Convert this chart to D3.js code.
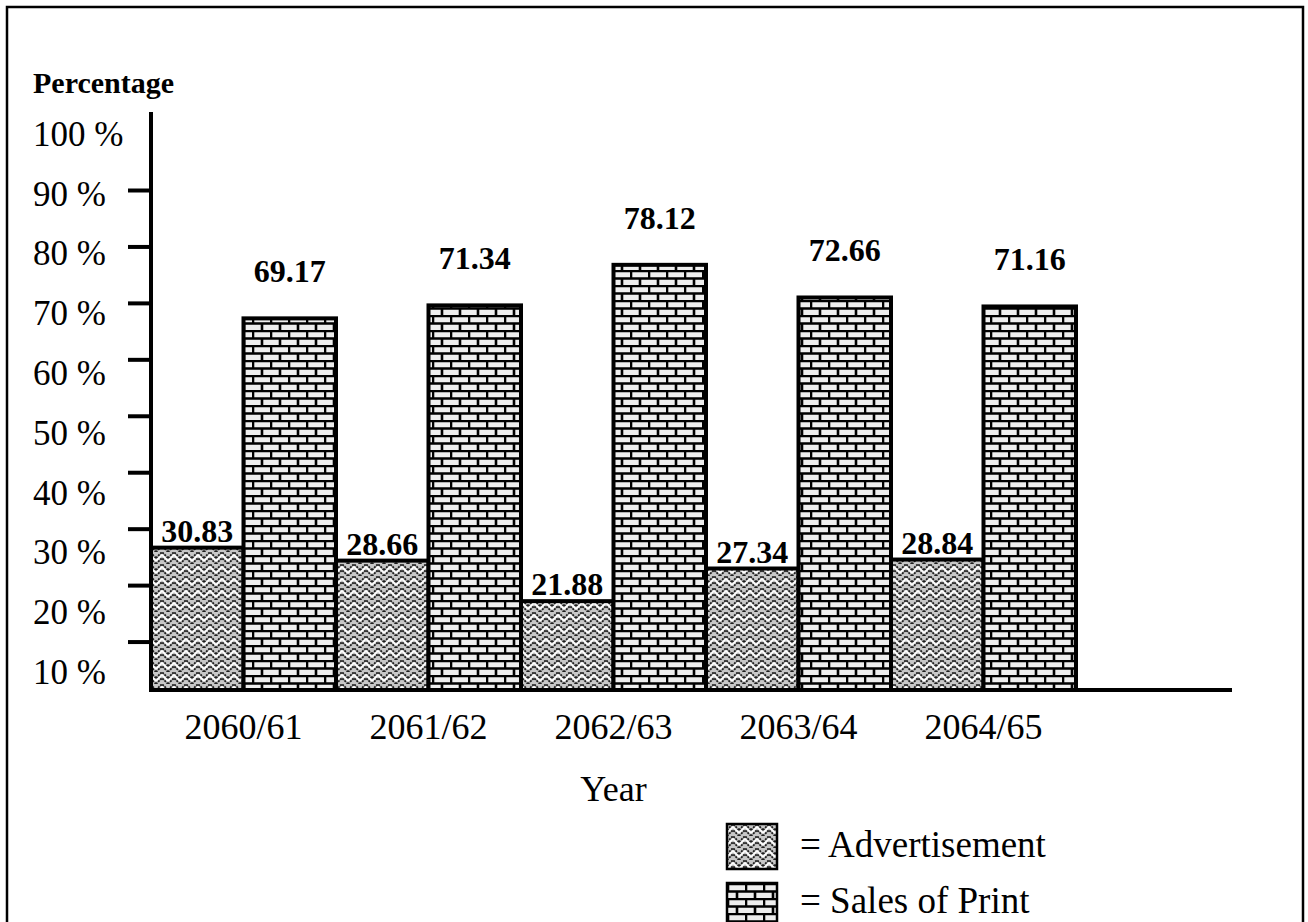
<!DOCTYPE html>
<html>
<head>
<meta charset="utf-8">
<script src="https://cdn.jsdelivr.net/npm/d3@7"></script>
<style>
  body { margin: 0; background: white; }
  text { font-family: "Liberation Serif", "Times New Roman", serif; fill: black; }
</style>
</head>
<body>
<div id="container"></div>
<script>
let w = 1308;
let h = 922;

// DATA
let years = ["2060/61", "2061/62", "2062/63", "2063/64", "2064/65"];
let seriesNames = ["Advertisement", "Sales of Print"];
let advertisement = [30.83, 28.66, 21.88, 27.34, 28.84];
let salesOfPrint = [69.17, 71.34, 78.12, 72.66, 71.16];
let yLabelValues = [10, 20, 30, 40, 50, 60, 70, 80, 90, 100];
let yTickValues = [20, 30, 40, 50, 60, 70, 80, 90, 100];

// layout
let axisX = 151;
let baseY = 690;
let barsEnd = 1076;
let xAxisEnd = 1232;

let viz = d3.select("#container").append("svg")
    .attr("width", w)
    .attr("height", h)
    .style("display", "block")
;

// patterns
let defs = viz.append("defs");

let bricks = defs.append("pattern")
    .attr("id", "bricks")
    .attr("patternUnits", "userSpaceOnUse")
    .attr("width", 18)
    .attr("height", 15);
bricks.append("rect").attr("width", 18).attr("height", 15).attr("fill", "#eeeeee");
bricks.append("path")
    .attr("d", "M0,1 H18 M0,8.5 H18 M1,1 V8.5 M10,8.5 V16")
    .attr("stroke", "black")
    .attr("stroke-width", 2.6)
    .attr("fill", "none");

// herringbone-ish weave for Advertisement
let weave = defs.append("pattern")
    .attr("id", "weave")
    .attr("patternUnits", "userSpaceOnUse")
    .attr("width", 12)
    .attr("height", 12);
weave.append("rect").attr("width", 12).attr("height", 12).attr("fill", "#c8c8c8");
weave.append("path")
    .attr("d", "M0,6 L6,0 L12,6 M0,12 L6,6 L12,12")
    .attr("stroke", "#1e1e1e")
    .attr("stroke-width", 1.8)
    .attr("stroke-dasharray", "2,1")
    .attr("fill", "none");
weave.append("path")
    .attr("d", "M0,9 L6,3 L12,9")
    .attr("stroke", "white")
    .attr("stroke-width", 1.6)
    .attr("fill", "none");

let fills = { "Advertisement": "url(#weave)", "Sales of Print": "url(#bricks)" };
let labelGap = { "Advertisement": 6, "Sales of Print": 36 };

// frame
viz.append("rect")
    .attr("x", 7).attr("y", 7)
    .attr("width", 1296).attr("height", 1000)
    .attr("fill", "none")
    .attr("stroke", "black")
    .attr("stroke-width", 2.5);

// SCALES
let yScale = d3.scaleLinear().domain([0, 100]).range([732, 134]);
let tickScale = d3.scaleLinear().domain([10, 100]).range([698, 190]);
let xScale = d3.scaleBand().domain(years).range([axisX, barsEnd]);
let xInner = d3.scaleBand().domain(seriesNames).range([0, xScale.bandwidth()]);

// table built from the arrays
let rows = years.map(function(y, i){
  return [
    { year: y, name: "Advertisement", value: advertisement[i] },
    { year: y, name: "Sales of Print", value: salesOfPrint[i] }
  ];
}).flat();

// BARS
viz.selectAll(".bar").data(rows).enter()
  .append("rect")
    .attr("class", "bar")
    .attr("x", function(d){ return xScale(d.year) + xInner(d.name); })
    .attr("y", function(d){ return yScale(d.value); })
    .attr("width", xInner.bandwidth())
    .attr("height", function(d){ return baseY - yScale(d.value); })
    .attr("fill", function(d){ return fills[d.name]; })
    .attr("stroke", "black")
    .attr("stroke-width", 4)
;

// value labels
viz.selectAll(".val").data(rows).enter()
  .append("text")
    .attr("class", "val")
    .attr("x", function(d){ return xScale(d.year) + xInner(d.name) + xInner.bandwidth() / 2; })
    .attr("y", function(d){ return yScale(d.value) - labelGap[d.name]; })
    .attr("text-anchor", "middle")
    .style("font-size", "32px")
    .style("font-weight", "bold")
    .text(function(d){ return d.value.toFixed(2); })
;

// Y AXIS: labels (left aligned) and tick marks
let yLabels = viz.append("g")
    .attr("transform", "translate(33,0)")
    .call(d3.axisLeft(yScale).tickValues(yLabelValues).tickSize(0)
      .tickFormat(function(d){ return d + " %"; }));
yLabels.select(".domain").remove();
yLabels.selectAll("text")
    .attr("x", 0)
    .attr("text-anchor", "start")
    .style("font-family", "'Liberation Serif', serif")
    .style("font-size", "35px");

let yTicks = viz.append("g")
    .attr("transform", "translate(" + axisX + ",0)")
    .call(d3.axisLeft(tickScale).tickValues(yTickValues).tickSize(23).tickFormat(""));
yTicks.select(".domain").remove();
yTicks.selectAll("line").attr("stroke", "black").attr("stroke-width", 4);

viz.append("line")
    .attr("x1", axisX).attr("x2", axisX)
    .attr("y1", 112).attr("y2", baseY + 2)
    .attr("stroke", "black").attr("stroke-width", 4);

// X AXIS
viz.append("line")
    .attr("x1", axisX - 2).attr("x2", xAxisEnd)
    .attr("y1", baseY).attr("y2", baseY)
    .attr("stroke", "black").attr("stroke-width", 4);

viz.selectAll(".cat").data(years).enter()
  .append("text")
    .attr("class", "cat")
    .attr("x", function(d){ return xScale(d) + xScale.bandwidth() / 2; })
    .attr("y", 739)
    .attr("text-anchor", "middle")
    .style("font-size", "36px")
    .text(function(d){ return d; })
;

viz.append("text")
    .attr("x", (axisX + barsEnd) / 2)
    .attr("y", 801)
    .attr("text-anchor", "middle")
    .style("font-size", "36px")
    .text("Year");

viz.append("text")
    .attr("x", 33)
    .attr("y", 93)
    .style("font-size", "30px")
    .style("font-weight", "bold")
    .text("Percentage");

// LEGEND
let legend = viz.selectAll(".legend").data(seriesNames).enter()
  .append("g")
    .attr("class", "legend")
    .attr("transform", function(d, i){ return "translate(727," + (824 + i * 59) + ")"; });
legend.append("rect")
    .attr("width", 50).attr("height", 45)
    .attr("fill", function(d){ return fills[d]; })
    .attr("stroke", "black").attr("stroke-width", 2.5);
legend.append("text")
    .attr("x", 73)
    .attr("y", function(d, i){ return 33 - i * 3; })
    .style("font-size", "37px")
    .text(function(d){ return "= " + d; });
</script>
</body>
</html>
